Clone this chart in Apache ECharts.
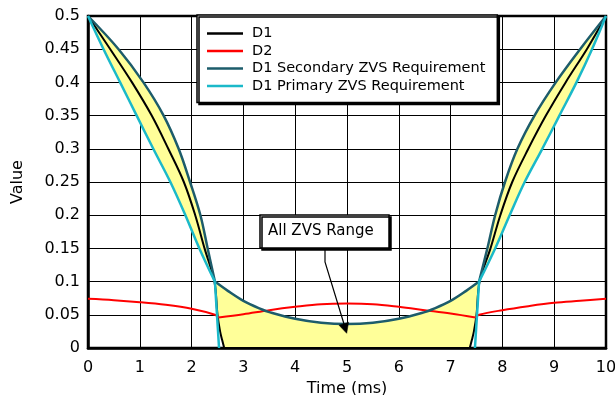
<!DOCTYPE html>
<html><head><meta charset="utf-8">
<script src="https://cdn.jsdelivr.net/npm/echarts@6/dist/echarts.min.js"></script>
<style>html,body{margin:0;padding:0;background:#fff}#c{width:615px;height:395px}</style>
</head><body><div id="c"></div>
<script>
// ---- tick labels ----
const xTicks = ['0','1','2','3','4','5','6','7','8','9','10'];
const yTicks = ['0','0.05','0.1','0.15','0.2','0.25','0.3','0.35','0.4','0.45','0.5'];
const seriesNames = ['D1','D2','D1 Secondary ZVS Requirement','D1 Primary ZVS Requirement'];

// ---- D1 (black) ----
const d1LeftT  = [0, 0.43, 0.85, 1.23, 1.55, 1.85, 2.07, 2.25, 2.44, 2.50, 2.55, 2.59, 2.63];
const d1LeftV  = [0.5, 0.45, 0.4, 0.35, 0.3, 0.25, 0.2, 0.15, 0.1, 0.05, 0.025, 0.012, 0];
const d1ZeroT  = [2.63, 7.37];
const d1ZeroV  = [0, 0];
const d1RightT = [7.37, 7.41, 7.45, 7.50, 7.56, 7.77, 7.96, 8.19, 8.50, 8.84, 9.22, 9.63, 10];
const d1RightV = [0, 0.012, 0.025, 0.05, 0.1, 0.15, 0.2, 0.25, 0.3, 0.35, 0.4, 0.45, 0.5];

// ---- D2 (red) ----
const d2LeftT  = [0, 0.5, 1, 1.5, 2, 2.45, 2.52];
const d2LeftV  = [0.074, 0.072, 0.069, 0.065, 0.059, 0.050, 0.046];
const d2MidT   = [2.52, 3, 3.5, 4, 4.5, 5, 5.5, 6, 6.5, 7, 7.48];
const d2MidV   = [0.046, 0.051, 0.057, 0.062, 0.066, 0.067, 0.066, 0.062, 0.057, 0.052, 0.046];
const d2RightT = [7.48, 7.55, 8, 8.5, 9, 9.5, 10];
const d2RightV = [0.046, 0.050, 0.057, 0.063, 0.068, 0.071, 0.074];

// ---- D1 Secondary ZVS Requirement (dark teal) ----
const secLeftT  = [0, 0.59, 1.07, 1.46, 1.75, 1.97, 2.17, 2.31, 2.45];
const secLeftV  = [0.5, 0.45, 0.4, 0.35, 0.3, 0.25, 0.2, 0.15, 0.1];
const secMidT   = [2.45, 2.7, 3.0, 3.36, 3.5, 4.0, 4.5, 5.0, 5.5, 6.0, 6.5, 6.64, 7.0, 7.3, 7.55];
const secMidV   = [0.1, 0.086, 0.071, 0.058, 0.054, 0.044, 0.038, 0.036, 0.038, 0.044, 0.054, 0.058, 0.071, 0.086, 0.1];
const secRightT = [7.55, 7.71, 7.86, 8.05, 8.29, 8.62, 9.03, 9.5, 10];
const secRightV = [0.1, 0.15, 0.2, 0.25, 0.3, 0.35, 0.4, 0.45, 0.5];

// ---- D1 Primary ZVS Requirement (cyan) ----
const priLeftT  = [0, 0.3, 0.62, 0.94, 1.26, 1.59, 1.88, 2.15, 2.45];
const priLeftV  = [0.5, 0.45, 0.4, 0.35, 0.3, 0.25, 0.2, 0.15, 0.1];
const priDropLT = [2.45, 2.49, 2.53];
const priDropLV = [0.1, 0.05, 0];
const priDropRT = [7.47, 7.51, 7.55];
const priDropRV = [0, 0.05, 0.1];
const priRightT = [7.55, 7.86, 8.14, 8.43, 8.77, 9.1, 9.43, 9.73, 10];
const priRightV = [0.1, 0.15, 0.2, 0.25, 0.3, 0.35, 0.4, 0.45, 0.5];

const colors = ['#000000', '#ff0000', '#1d5c6b', '#1bb9c9'];
const widths = [2, 2, 2.5, 2.5];
const FONT = 'DejaVu Sans';

function pairs(ts, vs) { return ts.map((t, i) => [t, vs[i]]); }
function line(idx, ts, vs, smooth) {
  return {
    type: 'line', name: seriesNames[idx], data: pairs(ts, vs),
    symbol: 'none', smooth: smooth ? 0.35 : false, z: 3 + idx * 0.1,
    lineStyle: { color: colors[idx], width: widths[idx] },
    itemStyle: { color: colors[idx] }, silent: true, animation: false
  };
}
function fill(ts, vs) {
  return {
    type: 'custom', coordinateSystem: 'cartesian2d', silent: true, z: 1,
    data: [[ts[0], vs[0]]], animation: false,
    renderItem: function (params, api) {
      const pts = ts.map((t, i) => api.coord([t, vs[i]]));
      return { type: 'polygon', shape: { points: pts }, style: { fill: '#ffff99', stroke: null } };
    }
  };
}
const rev = a => a.slice().reverse();

const fillLeftT = secLeftT.concat(rev(priLeftT));
const fillLeftV = secLeftV.concat(rev(priLeftV));
const fillMidT = secMidT.concat(rev(d1RightT.slice(0, 5)), rev(d1LeftT.slice(8)));
const fillMidV = secMidV.concat(rev(d1RightV.slice(0, 5)), rev(d1LeftV.slice(8)));
const fillRightT = secRightT.concat(rev(priRightT));
const fillRightV = secRightV.concat(rev(priRightV));

const chart = echarts.init(document.getElementById('c'), null, { renderer: 'canvas' });
chart.setOption({
  animation: false,
  backgroundColor: '#fff',
  textStyle: { fontFamily: FONT },
  grid: { left: 88, right: 9, top: 16, bottom: 47, show: true, borderColor: '#000', borderWidth: 2.5,
    backgroundColor: 'transparent', containLabel: false, outerBoundsMode: 'none' },
  xAxis: {
    type: 'value', min: 0, max: 10, interval: 1,
    name: 'Time (ms)', nameLocation: 'middle', nameGap: 25,
    nameTextStyle: { fontFamily: FONT, fontSize: 16, color: '#000' },
    axisLine: { show: true, lineStyle: { color: '#000', width: 2.5 } },
    axisTick: { show: false },
    axisLabel: { fontFamily: FONT, fontSize: 16, color: '#000', margin: 12,
      formatter: v => xTicks[Math.round(v)] },
    splitLine: { show: true, lineStyle: { color: '#000', width: 1 } }
  },
  yAxis: {
    type: 'value', min: 0, max: 0.5, interval: 0.05,
    name: 'Value', nameLocation: 'middle', nameGap: 62,
    nameTextStyle: { fontFamily: FONT, fontSize: 16, color: '#000' },
    axisLine: { show: true, lineStyle: { color: '#000', width: 2.5 } },
    axisTick: { show: false },
    axisLabel: { fontFamily: FONT, fontSize: 16, color: '#000', margin: 8,
      formatter: v => yTicks[Math.round(v / 0.05)] },
    splitLine: { show: true, lineStyle: { color: '#000', width: 1 } }
  },
  legend: {
    data: seriesNames, orient: 'vertical', left: 197, top: 15,
    icon: 'rect', itemWidth: 36, itemHeight: 2.5, itemGap: 2.5,
    padding: [11, 12, 9, 10],
    backgroundColor: '#fff', borderColor: '#000', borderWidth: 1.5,
    shadowColor: '#000', shadowOffsetX: 2, shadowOffsetY: 2, shadowBlur: 0.01,
    selectedMode: false, z: 20,
    textStyle: { fontFamily: FONT, fontSize: 14.5, lineHeight: 14, color: '#000', padding: [0, 0, 0, 4] }
  },
  graphic: [
    { type: 'rect', z: 30, shape: { x: 260, y: 215, width: 129, height: 33 },
      style: { fill: '#fff', stroke: '#000', lineWidth: 1.5, shadowColor: '#000', shadowOffsetX: 2, shadowOffsetY: 2, shadowBlur: 0.01 } },
    { type: 'text', z: 31, x: 268, y: 231.5,
      style: { text: 'All ZVS Range', font: '15px "DejaVu Sans"', fill: '#000', verticalAlign: 'middle' } },
    { type: 'polyline', z: 31, shape: { points: [[325, 249], [325, 262], [344, 324]] },
      style: { stroke: '#000', lineWidth: 1.2, fill: null } },
    { type: 'polygon', z: 31, shape: { points: [[346.7, 333.3], [339.0, 325.2], [348.6, 322.2]] },
      style: { fill: '#000', stroke: '#000', lineWidth: 0.5 } }
  ],
  series: [
    fill(fillLeftT, fillLeftV),
    fill(fillMidT, fillMidV),
    fill(fillRightT, fillRightV),
    line(0, d1LeftT, d1LeftV, true),
    line(0, d1ZeroT, d1ZeroV, false),
    line(0, d1RightT, d1RightV, true),
    line(1, d2LeftT, d2LeftV, true),
    line(1, d2MidT, d2MidV, true),
    line(1, d2RightT, d2RightV, true),
    line(2, secLeftT, secLeftV, true),
    line(2, secMidT, secMidV, true),
    line(2, secRightT, secRightV, true),
    line(3, priLeftT, priLeftV, true),
    line(3, priDropLT, priDropLV, true),
    line(3, priDropRT, priDropRV, true),
    line(3, priRightT, priRightV, true)
  ]
});
</script></body></html>
